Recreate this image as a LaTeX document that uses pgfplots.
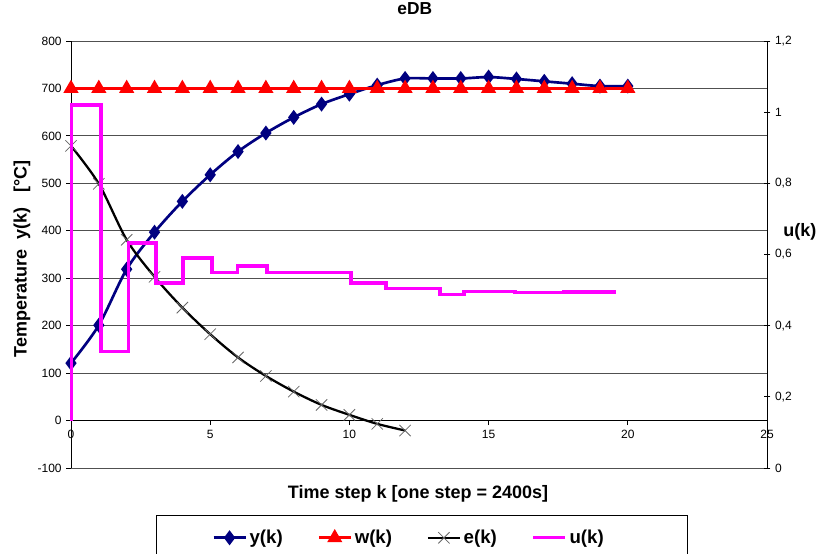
\documentclass[border=0pt]{standalone}
\usepackage{fontspec}
\setmainfont{Liberation Sans}
\usepackage{pgfplots}
\pgfplotsset{compat=1.18}
\definecolor{yNavy}{HTML}{000080}
\definecolor{wRed}{HTML}{FF0000}
\definecolor{uMag}{HTML}{FF00FF}
\definecolor{gridC}{HTML}{505050}

\begin{document}
\begin{tikzpicture}
\pgfplotsset{
  every axis/.append style={scale only axis, width=522pt, height=320.25pt,
    xmin=0, xmax=25,
    /pgf/number format/assume math mode=true,
    tick label style={font=\fontsize{9}{10}\selectfont},
    axis line style={-, line width=0.6pt, black},
    tick style={black, line width=0.6pt},
    major tick length=3.5pt},
}
\begin{axis}[
  ymin=-100, ymax=800, ytick={-100,0,...,800}, xtick={0,5,...,25},
  axis x line*=middle, axis y line*=left, tick align=outside,
  hide obscured x ticks=false, hide obscured y ticks=false,
  ymajorgrids, grid style={gridC, line width=0.6pt},
  title={eDB},
  title style={at={(axis description cs:0.494,1.056)}, anchor=center,
    font=\fontsize{13}{15}\selectfont\bfseries},
  xlabel={Time step k [one step = 2400s]},
  xlabel style={at={(axis description cs:0.4986,-0.061)}, anchor=center,
    font=\fontsize{13.5}{15}\selectfont\bfseries},
  ylabel={Temperature\ \ y(k)\ \ \ [°C]},
  ylabel style={at={(axis description cs:-0.0704,0.49)}, anchor=center,
    font=\fontsize{13.5}{15}\selectfont\bfseries},
  clip=false]
\addplot[yNavy, line width=2pt, smooth, mark=diamond*, mark size=4pt,
  mark options={solid, fill=yNavy}] coordinates {
  (0,121)(1,201)(2,319)(3,397)(4,462)(5,518)(6,567)(7,606)(8,639)(9,667)
  (10,688)(11,707)(12,721)(13,721)(14,721)(15,724)(16,720)(17,715)(18,710)
  (19,705)(20,705)};
\addplot[wRed, line width=2pt, mark=triangle*, mark size=4.6pt,
  mark options={solid, fill=wRed}] coordinates {
  (0,700)(1,700)(2,700)(3,700)(4,700)(5,700)(6,700)(7,700)(8,700)(9,700)
  (10,700)(11,700)(12,700)(13,700)(14,700)(15,700)(16,700)(17,700)(18,700)
  (19,700)(20,700)};
\addplot[black, line width=1.7pt, smooth, mark=x, mark size=6pt,
  mark options={solid, black!60, line width=0.6pt}] coordinates {
  (0,579)(1,499)(2,381)(3,303)(4,238)(5,182)(6,133)(7,94)(8,61)(9,33)
  (10,12)(11,-7)(12,-21)};
\end{axis}

\begin{axis}[
  ymin=0, ymax=1.2, ytick={0,0.2,0.4,0.6,0.8,1,1.2},
  axis y line*=right, axis x line=none, ytick align=center,
  major tick length=5pt,
  yticklabel style={/pgf/number format/.cd, use comma, fixed, precision=1},
  legend columns=4,
  legend style={at={(0.5043,-0.11)}, anchor=north, draw=black, line width=0.6pt,
    font=\fontsize{14}{16}\selectfont\bfseries,
    inner xsep=42pt, inner ysep=9pt,
    /tikz/every even column/.append style={column sep=24pt}},
  legend image code/.code={\draw[mark repeat=2, mark phase=2, #1]
    plot coordinates {(0pt,0pt)(12pt,0pt)(24pt,0pt)};},
  clip=false]
\addlegendimage{yNavy, line width=2pt, mark=diamond*, mark size=4pt,
  mark options={solid, fill=yNavy}}
\addlegendentry{y(k)}
\addlegendimage{wRed, line width=2pt, mark=triangle*, mark size=4.6pt,
  mark options={solid, fill=wRed}}
\addlegendentry{w(k)}
\addlegendimage{black, line width=1.7pt, mark=x, mark size=6pt,
  mark options={solid, black!60, line width=0.6pt}}
\addlegendentry{e(k)}
\addplot[uMag, line width=2.5pt, no markers] coordinates {
  (0.02,0.133)(0.02,1.02)(1.08,1.02)(1.08,0.328)(2.07,0.328)(2.07,0.632)
  (3.05,0.632)(3.05,0.52)(4.02,0.52)(4.02,0.59)(5.07,0.59)(5.07,0.549)
  (5.99,0.549)(5.99,0.568)(7.04,0.568)(7.04,0.549)(10.06,0.549)(10.06,0.52)
  (11.32,0.52)(11.32,0.505)(13.26,0.505)(13.26,0.487)(14.12,0.487)
  (14.12,0.496)(15.95,0.496)(15.95,0.493)(17.68,0.493)(17.68,0.495)
  (19.58,0.495)};
\addlegendentry{u(k)\hspace*{19pt}}
\node[font=\fontsize{13.5}{15}\selectfont\bfseries] at (axis description cs:1.0474,0.553) {u(k)};
\end{axis}
\pgfresetboundingbox
\useasboundingbox (-53.25pt,-63.75pt) rectangle (570pt,351pt);
\end{tikzpicture}
\end{document}
